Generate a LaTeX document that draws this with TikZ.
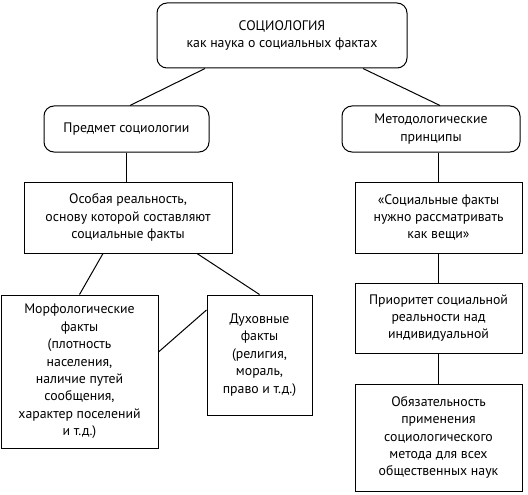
\documentclass[tikz,border=0pt]{standalone}
\usepackage{fontspec}
\setmainfont{PT Sans}
\usetikzlibrary{calc}
\tikzset{
  box/.style={draw,line width=1pt,align=center,inner sep=2pt,font=\fontsize{13.8}{17.4}\selectfont},
  rbox/.style={box,rounded corners=10pt},
  link/.style={line width=1pt}
}
\begin{document}
\begin{tikzpicture}[x=1pt,y=-1pt]
\useasboundingbox (0,0) rectangle (528,495);
\node[rbox,minimum width=250pt,minimum height=65pt] (top) at (282,35.5) {СОЦИОЛОГИЯ\\как наука о социальных фактах};
\node[rbox,minimum width=165pt,minimum height=46pt] (subj) at (126.5,129) {Предмет социологии};
\node[rbox,minimum width=178pt,minimum height=46pt] (meth) at (431,129) {Методологические\\принципы};
\node[box,minimum width=208pt,minimum height=71pt] (real) at (128,217.5) {Особая реальность,\\основу которой составляют\\социальные факты};
\node[box,minimum width=167pt,minimum height=71pt] (things) at (438.5,217.5) {«Социальные факты\\нужно рассматривать\\как вещи»};
\node[box,minimum width=167pt,minimum height=70pt] (prior) at (438.5,318) {Приоритет социальной\\реальности над\\индивидуальной};
\node[box,minimum width=167pt,minimum height=107pt] (oblig) at (438.5,437.5) {Обязательность\\применения\\социологического\\метода для всех\\общественных наук};
\node[box,minimum width=157pt,minimum height=153pt] (morph) at (79.5,371.5) {Морфологические\\факты\\(плотность\\населения,\\наличие путей\\сообщения,\\характер поселений\\и т.д.)};
\node[box,minimum width=105pt,minimum height=120pt] (spirit) at (259.5,355) {Духовные\\факты\\(религия,\\мораль,\\право и т.д.)};
\draw[link] ([xshift=-77pt]top.south) -- ([xshift=3.5pt]subj.north);
\draw[link] ([xshift=81pt]top.south) -- ([xshift=9pt]meth.north);
\draw[link] (subj.south) -- (subj.south |- real.north);
\draw[link] (things.north |- meth.south) -- (things.north);
\draw[link] (things) -- (prior);
\draw[link] (prior) -- (oblig);
\draw[link] ([xshift=-25pt]real.south) -- (morph.north);
\draw[link] ([xshift=69pt]real.south) -- (spirit.north);
\draw[link] ([yshift=19.5pt]morph.east) -- ([yshift=45pt]spirit.west);
\end{tikzpicture}
\end{document}
